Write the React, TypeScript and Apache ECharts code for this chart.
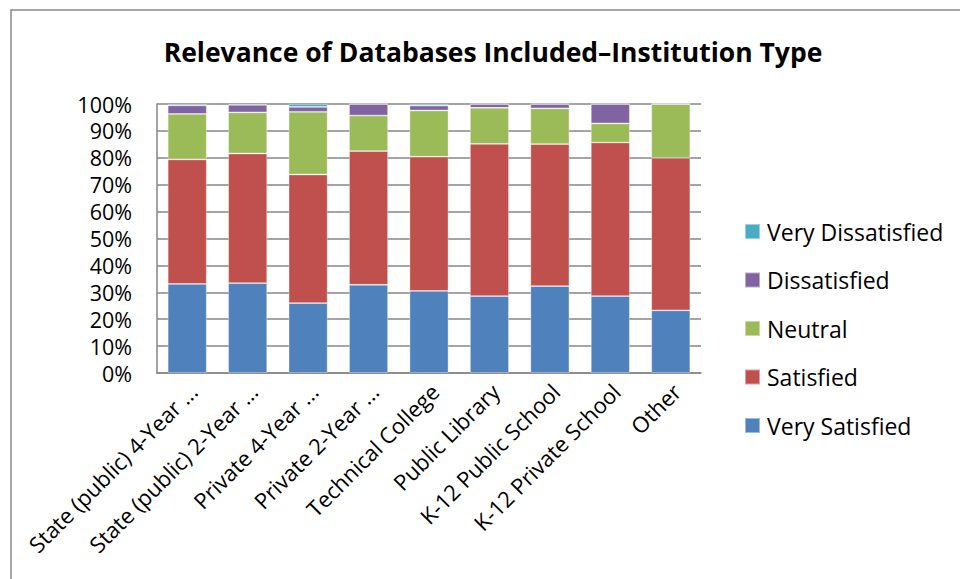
import React, { useEffect, useRef } from "react";
import * as echarts from "echarts";

const categories = [
  "State (public) 4-Year ...",
  "State (public) 2-Year ...",
  "Private 4-Year ...",
  "Private 2-Year ...",
  "Technical College",
  "Public Library",
  "K-12 Public School",
  "K-12 Private School",
  "Other",
];

const verySatisfied = [33.1, 33.4, 26.0, 32.8, 30.5, 28.6, 32.3, 28.6, 23.3];
const satisfied = [46.3, 48.2, 47.8, 49.7, 49.9, 56.6, 52.8, 57.1, 56.7];
const neutral = [16.9, 15.3, 23.3, 13.2, 17.2, 13.4, 13.3, 7.1, 20.0];
const dissatisfied = [3.2, 2.8, 1.8, 4.3, 1.8, 1.4, 1.6, 7.2, 0];
const veryDissatisfied = [0.5, 0.3, 1.1, 0, 0.6, 0, 0, 0, 0];

const seriesNames = ["Very Satisfied", "Satisfied", "Neutral", "Dissatisfied", "Very Dissatisfied"];
const seriesValues = [verySatisfied, satisfied, neutral, dissatisfied, veryDissatisfied];
const seriesColors = ["#4F81BD", "#C0504D", "#9BBB59", "#8064A2", "#4BACC6"];

const FONT = "'Open Sans', 'Noto Sans', sans-serif";

export default function App() {
  const ref = useRef<HTMLDivElement>(null);
  useEffect(() => {
    if (!ref.current) return;
    const chart = echarts.init(ref.current, null, { renderer: "svg" });
    chart.setOption({
      animation: false,
      backgroundColor: "#ffffff",
      textStyle: { fontFamily: FONT },
      title: {
        text: "Relevance of Databases Included\u2013Institution Type",
        left: 488,
        textAlign: "center",
        top: 33,
        textStyle: { fontFamily: FONT, fontWeight: "bold", fontSize: 26.5, color: "#000" },
      },
      graphic: [
        {
          type: "rect",
          shape: { x: 11, y: 10, width: 1200, height: 1200 },
          style: { fill: "none", stroke: "#898989", lineWidth: 1.5 },
          silent: true,
        },
      ],
      legend: {
        orient: "vertical",
        left: 744,
        top: 220,
        padding: 0,
        itemWidth: 15,
        itemHeight: 15,
        itemGap: 25.5,
        icon: "rect",
        data: ["Very Dissatisfied", "Dissatisfied", "Neutral", "Satisfied", "Very Satisfied"],
        textStyle: { fontFamily: FONT, fontSize: 23, color: "#000", lineHeight: 22, padding: [0, 0, 0, 2] },
      },
      grid: { left: 157, top: 104, width: 544, height: 269, containLabel: false },
      xAxis: {
        type: "category",
        data: categories,
        axisLine: { show: true, lineStyle: { color: "#868686", width: 1.5 } },
        axisTick: { show: false },
        axisLabel: {
          rotate: 45,
          interval: 0,
          margin: 20,
          padding: [0, -8, 0, 0],
          fontFamily: FONT,
          fontSize: 22,
          color: "#000",
        },
      },
      yAxis: {
        type: "value",
        min: 0,
        max: 100,
        interval: 10,
        axisLine: { show: true, lineStyle: { color: "#868686", width: 1.5 } },
        axisTick: { show: false },
        splitLine: { show: true, lineStyle: { color: "#868686", width: 1.5 } },
        axisLabel: {
          formatter: "{value}%",
          margin: 25,
          fontFamily: FONT,
          fontSize: 21.5,
          lineHeight: 22,
          color: "#000",
        },
      },
      series: seriesNames.map((name, i) => ({
        name,
        type: "bar",
        stack: "total",
        barWidth: 39,
        data: seriesValues[i],
        itemStyle: { color: seriesColors[i], borderColor: "rgba(255,255,255,0.45)", borderWidth: 0.8 },
      })),
    });
    return () => chart.dispose();
  }, []);
  return (
    <div
      ref={ref}
      style={{ position: "fixed", left: 0, top: 0, width: 960, height: 579, background: "#fff" }}
    />
  );
}
